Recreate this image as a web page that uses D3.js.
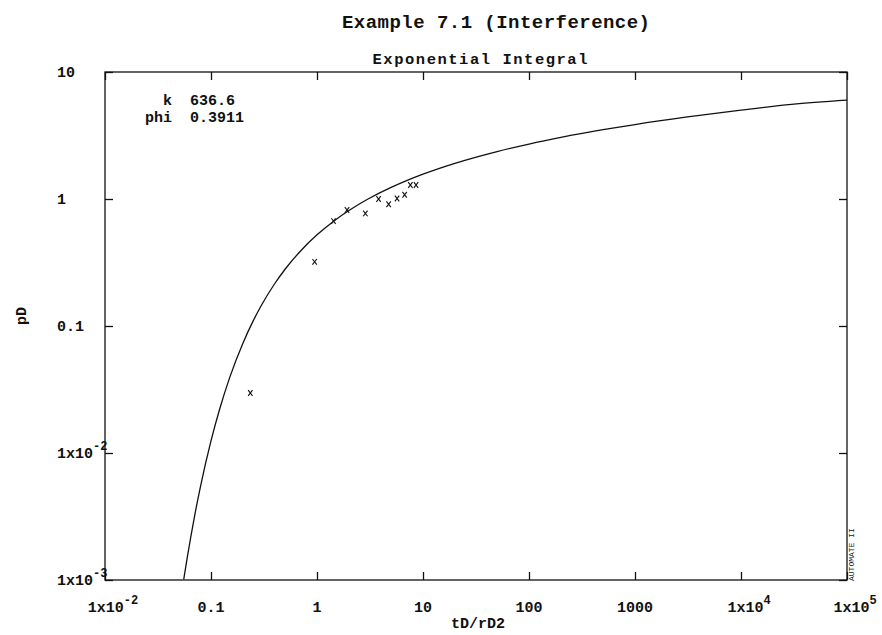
<!DOCTYPE html>
<html><head><meta charset="utf-8">
<script src="https://cdn.jsdelivr.net/npm/d3@7"></script>
<style>body{margin:0;background:#fff}svg{display:block}</style>
</head><body><svg id="c" width="882" height="635"></svg>
<script>
// Type curve (dimensionless time vs pD)
const curveT  = [0.0553, 0.06, 0.07, 0.08, 0.1, 0.12, 0.15, 0.2, 0.25, 0.3, 0.4, 0.5, 0.7, 1, 1.5, 2, 3, 5, 7, 10, 20, 50, 100, 200, 500, 1000, 3000, 10000, 30000, 100000];
const curvePD = [0.00101, 0.00154, 0.00319, 0.00557, 0.01246, 0.0218, 0.0392, 0.0732, 0.1097, 0.1463, 0.2161, 0.2799, 0.390, 0.5221, 0.6873, 0.8117, 0.9947, 1.2339, 1.3952, 1.5683, 1.9086, 2.363, 2.708, 3.054, 3.512, 3.8585, 4.408, 5.010, 5.559, 6.0];
// Observed (matched) data points
const obsT  = [0.235, 0.95, 1.43, 1.92, 2.86, 3.81, 4.74, 5.69, 6.71, 7.6, 8.6];
const obsPD = [0.0297, 0.32, 0.67, 0.82, 0.77, 1.0, 0.91, 1.01, 1.08, 1.29, 1.29];
const xTicks = [1e-2, 1e-1, 1, 10, 100, 1000, 1e4, 1e5];
const xTickLabels = ["1x10^-2", "0.1", "1", "10", "100", "1000", "1x10^4", "1x10^5"];
const yTicks = [1e-3, 1e-2, 0.1, 1, 10];
const yTickLabels = ["1x10^-3", "1x10^-2", "0.1", "1", "10"];
const paramNames = ["k", "phi"];
const paramValues = ["636.6", "0.3911"];

const FONT = "'Liberation Mono','DejaVu Sans Mono',monospace";
const svg = d3.select("#c");
const L = 105, R = 847, T = 72, B = 580;
const x = d3.scaleLog().domain([1e-2, 1e5]).range([L, R]);
const y = d3.scaleLog().domain([1e-3, 10]).range([B, T]);

function addLabel(sel, str, supSize) {
  const parts = str.split("^");
  sel.text(null);
  sel.append("tspan").text(parts[0]);
  if (parts.length > 1) sel.append("tspan").attr("dy", -8).attr("font-size", supSize).text(parts[1]);
}

// frame
svg.append("rect").attr("x", L).attr("y", T).attr("width", R - L).attr("height", B - T)
  .attr("fill", "none").attr("stroke", "#111").attr("stroke-width", 1.3);

// axes ticks (inside)
const tickStyle = g => { g.select(".domain").remove(); g.selectAll("line").attr("stroke", "#111").attr("stroke-width", 1.3); g.selectAll("text").remove(); };
svg.append("g").attr("transform", `translate(0,${B})`).call(d3.axisBottom(x).tickValues(xTicks).tickSize(-8).tickFormat("")).call(tickStyle);
svg.append("g").attr("transform", `translate(0,${T})`).call(d3.axisTop(x).tickValues(xTicks).tickSize(-8).tickFormat("")).call(tickStyle);
svg.append("g").attr("transform", `translate(${L},0)`).call(d3.axisLeft(y).tickValues(yTicks).tickSize(-8).tickFormat("")).call(tickStyle);
svg.append("g").attr("transform", `translate(${R},0)`).call(d3.axisRight(y).tickValues(yTicks).tickSize(-8).tickFormat("")).call(tickStyle);

// x tick labels
xTicks.forEach((v, i) => {
  const lab = xTickLabels[i];
  const t = svg.append("text").attr("x", x(v) + (lab.includes("^") ? 8 : 0)).attr("y", 612)
    .attr("text-anchor", "middle").attr("font-family", FONT).attr("font-weight", "bold")
    .attr("font-size", 15).attr("fill", "#111");
  addLabel(t, lab, 12);
});
// y tick labels
yTicks.forEach((v, i) => {
  const t = svg.append("text").attr("x", 57).attr("y", y(v) + 5)
    .attr("text-anchor", "start").attr("font-family", FONT).attr("font-weight", "bold")
    .attr("font-size", 15).attr("fill", "#111");
  addLabel(t, yTickLabels[i], 12);
});

// titles
svg.append("text").attr("x", 496).attr("y", 28).attr("text-anchor", "middle")
  .attr("font-family", FONT).attr("font-weight", "bold").attr("font-size", 19)
  .attr("textLength", 308).attr("lengthAdjust", "spacing").attr("fill", "#111")
  .text("Example 7.1 (Interference)");
svg.append("text").attr("x", 480).attr("y", 64).attr("text-anchor", "middle")
  .attr("font-family", FONT).attr("font-weight", "bold").attr("font-size", 15.5)
  .attr("textLength", 215).attr("lengthAdjust", "spacing").attr("fill", "#111")
  .text("Exponential Integral");
// axis titles
svg.append("text").attr("x", 478).attr("y", 628).attr("text-anchor", "middle")
  .attr("font-family", FONT).attr("font-weight", "bold").attr("font-size", 15).attr("fill", "#111")
  .text("tD/rD2");
svg.append("text").attr("transform", "translate(26,316) rotate(-90)").attr("text-anchor", "middle")
  .attr("font-family", FONT).attr("font-weight", "bold").attr("font-size", 15).attr("fill", "#111")
  .text("pD");
svg.append("text").attr("transform", "translate(854,581) rotate(-90)").attr("text-anchor", "start")
  .attr("font-family", FONT).attr("font-size", 8).attr("fill", "#111")
  .text("AUTOMATE II");

// parameters
paramNames.forEach((n, i) => {
  svg.append("text").attr("x", 172).attr("y", 105 + i * 17).attr("text-anchor", "end")
    .attr("font-family", FONT).attr("font-weight", "bold").attr("font-size", 15).attr("fill", "#111").text(n);
  svg.append("text").attr("x", 190).attr("y", 105 + i * 17).attr("text-anchor", "start")
    .attr("font-family", FONT).attr("font-weight", "bold").attr("font-size", 15).attr("fill", "#111").text(paramValues[i]);
});

// curve
svg.append("clipPath").attr("id", "clip").append("rect").attr("x", L).attr("y", T).attr("width", R - L).attr("height", B - T);
const pts = curveT.map((t, i) => [t, curvePD[i]]);
svg.append("path").datum(pts).attr("clip-path", "url(#clip)")
  .attr("d", d3.line().x(d => x(d[0])).y(d => y(d[1])).curve(d3.curveMonotoneX))
  .attr("fill", "none").attr("stroke", "#111").attr("stroke-width", 1.3);

// observed points as small x marks
const s = 2.2;
svg.append("g").selectAll("path").data(obsT.map((t, i) => [t, obsPD[i]])).join("path")
  .attr("d", d => { const cx = x(d[0]), cy = y(d[1]); return `M${cx - s},${cy - s * 1.3}L${cx + s},${cy + s * 1.3}M${cx + s},${cy - s * 1.3}L${cx - s},${cy + s * 1.3}`; })
  .attr("stroke", "#111").attr("stroke-width", 1.1).attr("fill", "none");
</script></body></html>
